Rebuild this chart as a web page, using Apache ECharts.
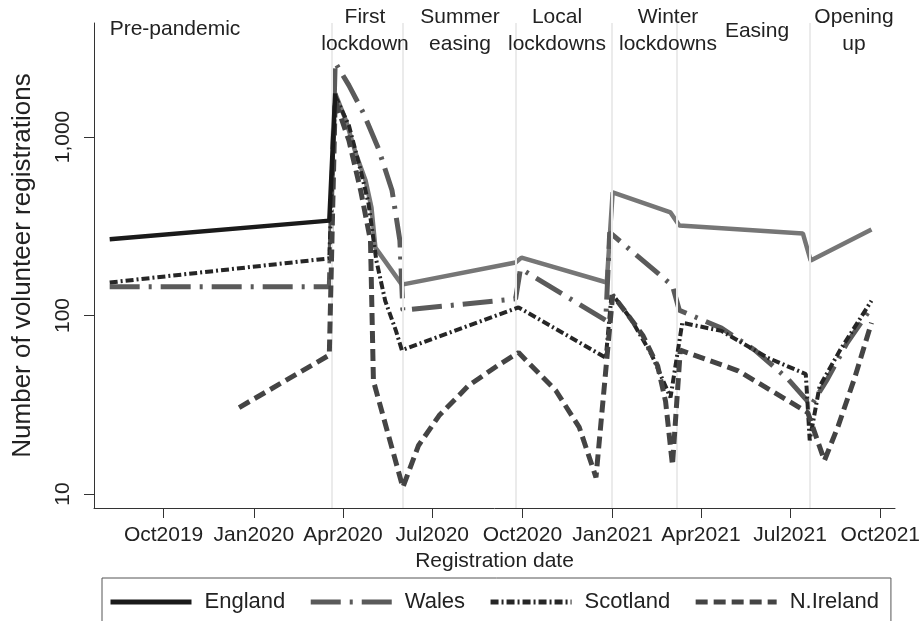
<!DOCTYPE html>
<html><head><meta charset="utf-8">
<script src="https://cdn.jsdelivr.net/npm/echarts@6/dist/echarts.min.js"></script>
<style>html,body{margin:0;padding:0;background:#fff}#c{width:923px;height:621px}</style>
</head><body><div id="c"></div>
<script>
// ---------- data ----------
const englandPre = [['2019-08-07',267],['2020-03-18',340],['2020-03-24',1754]];
const englandPost = [['2020-03-24',1754],['2020-04-04',1236],['2020-04-14',809],['2020-04-24',570],['2020-04-30',403],['2020-05-04',240],['2020-05-31',149],['2020-09-24',198],['2020-09-30',211],['2020-12-26',153],['2021-01-01',489],['2021-03-01',378],['2021-03-10',319],['2021-07-14',288],['2021-07-22',203],['2021-09-22',303]];
const wales = [['2019-08-07',145],['2020-03-18',145],['2020-03-24',2612],['2020-04-07',1945],['2020-04-22',1355],['2020-05-07',863],['2020-05-21',501],['2020-05-29',263],['2020-06-01',107],['2020-09-24',124],['2020-09-29',183],['2020-12-25',94],['2020-12-29',292],['2021-03-03',147],['2021-03-10',107],['2021-04-22',85],['2021-05-26',64],['2021-06-29',44],['2021-07-19',33],['2021-07-22',31],['2021-08-08',44],['2021-08-28',70],['2021-09-22',111]];
const scotland = [['2019-08-07',153],['2020-03-18',209],['2020-03-24',1706],['2020-04-07',1159],['2020-04-19',649],['2020-04-27',424],['2020-05-05',203],['2020-05-14',121],['2020-05-25',82],['2020-05-31',64],['2020-09-27',111],['2020-12-25',58],['2020-12-31',133],['2021-01-20',95],['2021-02-10',60],['2021-03-01',34.7],['2021-03-13',91],['2021-04-22',82],['2021-06-08',58],['2021-07-17',47],['2021-07-21',20],['2021-07-31',40],['2021-08-21',64],['2021-09-22',121]];
const nireland = [['2019-12-17',30.5],['2020-03-18',60],['2020-03-24',1600],['2020-04-07',955],['2020-04-19',501],['2020-04-29',263],['2020-05-02',43],['2020-06-01',10.9],['2020-06-17',18.7],['2020-07-08',27.5],['2020-08-07',40.5],['2020-09-07',53],['2020-09-27',62],['2020-11-04',38],['2020-11-28',23.6],['2020-12-15',12.4],['2021-01-01',130],['2021-01-17',100],['2021-02-01',77],['2021-02-16',52],['2021-02-24',33],['2021-03-03',14.5],['2021-03-11',64],['2021-05-09',49],['2021-07-19',28.6],['2021-08-05',15.4],['2021-08-19',24],['2021-09-05',45],['2021-09-22',91]];
const periodBoundaries = ['2020-03-20','2020-06-01','2020-09-24','2020-12-31','2021-03-07','2021-07-21'];
const periodLabels = ['Pre-pandemic','First\nlockdown','Summer\neasing','Local\nlockdowns','Winter\nlockdowns','Easing','Opening\nup'];
const xTickDates = ['2019-10-01','2020-01-01','2020-04-01','2020-07-01','2020-10-01','2021-01-01','2021-04-01','2021-07-01','2021-10-01'];
const xTickLabels = ['Oct2019','Jan2020','Apr2020','Jul2020','Oct2020','Jan2021','Apr2021','Jul2021','Oct2021'];
const yTickValues = [10, 100, 1000];
const yTickLabels = ['10', '100', '1,000'];
const legendNames = ['England','Wales','Scotland','N.Ireland'];

// ---------- helpers ----------
function ts(s){ const p = s.split('-').map(Number); return Date.UTC(p[0], p[1]-1, p[2]); }
function conv(arr){ return arr.map(d => [ts(d[0]), d[1]]); }
const xTickTs = xTickDates.map(ts);
const xLabelMap = {}; xTickTs.forEach((t,i)=>{ xLabelMap[t] = xTickLabels[i]; });
const yLabelMap = {}; yTickValues.forEach((v,i)=>{ yLabelMap[v] = yTickLabels[i]; });

const FONT = 'Liberation Sans, Arial, Helvetica, sans-serif';
const chart = echarts.init(document.getElementById('c'), null, {renderer:'canvas'});

const periodPos = [[175,29],[365,31],[460,31],[557,31],[668,31],[757,31],[854,31]];

chart.setOption({
  animation: false,
  backgroundColor: '#fff',
  grid: {left: 94, right: 26, top: 23, bottom: 113, containLabel: false},
  xAxis: {
    type: 'value',
    min: ts('2019-07-22'), max: ts('2021-10-16'),
    name: 'Registration date', nameLocation: 'middle', nameGap: 42,
    nameTextStyle: {fontFamily: FONT, fontSize: 21, color: '#222'},
    axisLine: {lineStyle: {color: '#333', width: 1}},
    axisTick: {show: true, length: 10, lineStyle: {color: '#333'}, customValues: xTickTs},
    axisLabel: {customValues: xTickTs, margin: 17, fontFamily: FONT, fontSize: 21, color: '#222',
      formatter: v => xLabelMap[v] || ''},
    splitLine: {show: false}, minorTick: {show: false}
  },
  yAxis: {
    type: 'log', logBase: 10, min: 8.35, max: 4350,
    name: 'Number of volunteer registrations', nameLocation: 'middle', nameGap: 58, nameRotate: 90,
    nameTextStyle: {fontFamily: FONT, fontSize: 26, color: '#222'},
    axisLine: {show: true, lineStyle: {color: '#333', width: 1}},
    axisTick: {show: true, length: 10, lineStyle: {color: '#333'}, customValues: yTickValues},
    axisLabel: {customValues: yTickValues, rotate: 90, margin: 20, fontFamily: FONT, fontSize: 21, color: '#222',
      formatter: v => yLabelMap[Math.round(v)] || ''},
    splitLine: {show: false}, minorTick: {show: false}
  },
  legend: {
    data: legendNames.map(n => ({name: n, lineStyle: {width: 5}})),
    left: 102, top: 578,
    orient: 'horizontal',
    itemWidth: 81, itemHeight: 22, itemGap: 23,
    padding: [13, 12, 13, 6],
    borderColor: '#555', borderWidth: 1,
    itemStyle: {opacity: 0, borderWidth: 0},
    textStyle: {fontFamily: FONT, fontSize: 22, color: '#222', padding: [0,0,0,8]},
    selectedMode: false
  },
  graphic: periodLabels.map((t,i) => ({
    type: 'text', x: periodPos[i][0], y: periodPos[i][1], z: 10,
    style: {text: t, fontFamily: FONT, fontSize: 21, fill: '#222', align: 'center', verticalAlign: 'middle', lineHeight: 27}
  })),
  series: [
    {type: 'line', name: '_bounds', data: [], z: 1, silent: true, symbol: 'none',
      markLine: {silent: true, symbol: 'none', label: {show: false}, animation: false,
        lineStyle: {color: '#ebebeb', width: 2, type: 'solid'},
        data: periodBoundaries.map(d => ({xAxis: ts(d)}))}},
    {type: 'line', name: 'England', data: conv(englandPre), symbol: 'none', z: 6,
      lineStyle: {color: '#1a1a1a', width: 4.5, type: 'solid'}, itemStyle: {color: '#1a1a1a'}},
    {type: 'line', name: 'England', data: conv(englandPost), symbol: 'none', z: 3,
      lineStyle: {color: '#767676', width: 4.5, type: 'solid'}, itemStyle: {color: '#767676'}},
    {type: 'line', name: 'Wales', data: conv(wales), symbol: 'none', z: 4,
      lineStyle: {color: '#5a5a5a', width: 5, type: [30, 9, 3, 9]}, itemStyle: {color: '#5a5a5a'}},
    {type: 'line', name: 'Scotland', data: conv(scotland), symbol: 'none', z: 5,
      lineStyle: {color: '#262626', width: 4, type: [8, 3, 2, 3]}, itemStyle: {color: '#262626'}},
    {type: 'line', name: 'N.Ireland', data: conv(nireland), symbol: 'none', z: 5,
      lineStyle: {color: '#444', width: 5, type: [12, 6]}, itemStyle: {color: '#444'}}
  ]
});
</script>
</body></html>
